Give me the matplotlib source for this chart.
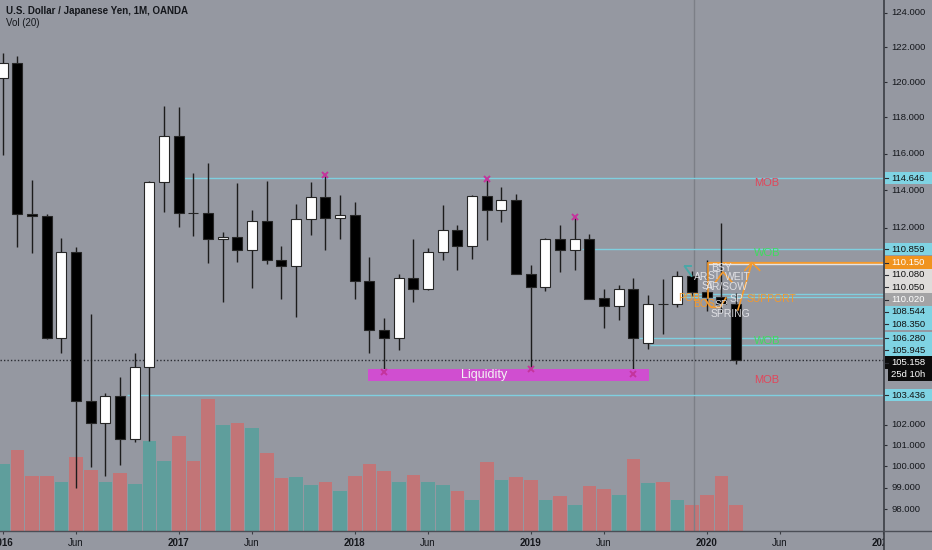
import numpy as np
import pandas as pd
import matplotlib
matplotlib.use('Agg')
import matplotlib.pyplot as plt
from matplotlib.patches import Rectangle
from matplotlib.lines import Line2D
from matplotlib.transforms import blended_transform_factory

plt.rcParams['font.family'] = ['Liberation Sans', 'DejaVu Sans']

# Monthly USD/JPY candles, Jan 2016 .. Mar 2020
months = pd.period_range('2016-01', '2020-03', freq='M')
opens = [120.21, 121.10, 112.71, 112.60, 106.30, 110.73, 103.16, 102.07, 103.42, 101.31, 104.83, 114.45,
         116.97, 112.76, 112.75, 111.38, 111.52, 110.80, 112.36, 110.27, 109.96, 112.47, 113.62, 112.51,
         112.68, 109.18, 106.67, 106.28, 109.35, 108.78, 110.73, 111.85, 111.04, 113.70, 112.92, 113.48,
         109.58, 108.86, 111.38, 110.83, 111.41, 108.30, 107.89, 108.77, 106.03, 108.03, 107.99, 109.46,
         108.61, 108.35, 107.99]
highs = [121.69, 121.51, 114.55, 112.70, 111.45, 110.95, 107.49, 103.56, 104.32, 105.55, 114.52, 118.65,
         118.61, 114.92, 115.50, 111.78, 114.37, 112.94, 114.50, 111.04, 113.26, 114.43, 114.83, 113.74,
         113.35, 110.46, 107.30, 109.55, 111.38, 110.94, 113.19, 112.15, 113.74, 114.62, 114.17, 113.81,
         110.01, 111.46, 112.12, 112.55, 111.67, 108.80, 108.99, 109.34, 108.46, 109.29, 109.70, 109.72,
         110.29, 112.23, 108.56]
lows = [115.92, 110.96, 110.67, 106.25, 105.55, 99.00, 99.98, 99.54, 100.07, 101.19, 101.21, 112.83,
        112.05, 111.55, 110.12, 108.13, 110.20, 108.82, 110.10, 108.25, 107.33, 111.62, 110.81, 111.38,
        108.25, 105.52, 104.59, 105.67, 108.10, 108.72, 110.27, 109.77, 110.36, 111.32, 112.28, 109.55,
        104.72, 108.70, 109.68, 109.77, 108.25, 106.77, 107.20, 104.49, 105.72, 106.49, 107.84, 108.43,
        107.65, 107.62, 104.98]
closes = [121.10, 112.71, 112.60, 106.30, 110.73, 103.16, 102.07, 103.42, 101.31, 104.83, 114.45, 116.97,
          112.76, 112.75, 111.38, 111.52, 110.80, 112.36, 110.27, 109.96, 112.47, 113.62, 112.51, 112.68,
          109.18, 106.67, 106.28, 109.35, 108.78, 110.73, 111.85, 111.04, 113.70, 112.94, 113.48, 109.58,
          108.86, 111.38, 110.83, 111.41, 108.27, 107.89, 108.77, 106.29, 108.03, 107.99, 109.46, 108.61,
          108.35, 107.99, 105.158]
# volume in thousands
volumes = [1000, 1206, 816, 816, 726, 1101, 910, 726, 865, 700, 1341, 1045,
           1416, 1041, 1971, 1590, 1620, 1540, 1165, 786, 801, 681, 730, 591,
           816, 1000, 895, 726, 835, 726, 685, 591, 460, 1035, 760, 805,
           756, 460, 516, 390, 670, 630, 535, 1075, 715, 726, 460, 390,
           535, 825, 385]

last_price = 105.158

# horizontal levels drawn on the chart
level_prices = [114.646, 110.859, 110.150, 110.080, 108.544, 108.350, 106.280, 105.945, 103.436]
level_starts = [12.3, 39.5, 48.1, 48.1, 46.2, 46.2, 43.4, 44.1, 8.45]
level_colors = ['#7fcfdf', '#7fcfdf', '#f59a2c', '#e4e4e4', '#7fcfdf', '#7fcfdf', '#7fcfdf', '#7fcfdf', '#7fcfdf']
level_widths = [1.0, 1.0, 1.6, 1.0, 1.0, 1.0, 1.0, 1.0, 1.0]

# price scale tags: text, price, background, text colour
CYAN = '#7fd3e3'
tag_texts = ['114.646', '110.859', '110.150', '110.080', '110.050', '110.020', '108.544', '108.350',
             '106.280', '105.945', '105.158', '25d 10h', '103.436']
tag_prices = [114.646, 110.859, 110.150, 110.080, 110.050, 110.020, 108.544, 108.350,
              106.280, 105.945, 105.158, 105.158, 103.436]
tag_bgs = [CYAN, CYAN, '#f0931e', '#dedcda', '#dedcda', '#a3a3a5', CYAN, CYAN,
           CYAN, CYAN, '#0c0c0c', '#0c0c0c', CYAN]
tag_fgs = ['#111', '#111', 'white', '#111', '#111', 'white', '#111', '#111',
           '#111', '#111', 'white', 'white', '#111']

scale_ticks = [124, 122, 120, 118, 116, 114, 112, 102, 101, 100, 99, 98]

# zone labels on the right
zone_texts = ['MOB', 'WOB', 'WOB', 'MOB']
zone_prices = [114.39, 110.66, 106.13, 104.19]
zone_colors = ['#e2465a', '#3fdc60', '#3fdc60', '#e2465a']

# swing markers (month index, price)
mark_x = [22, 33, 39, 26, 36, 43]
mark_y = [114.83, 114.62, 112.55, 104.59, 104.72, 104.49]

BG = '#9598a1'
W, H = 932, 550
plot_right = 884.3
plot_bottom = 530.7

fig = plt.figure(figsize=(W / 100, H / 100), dpi=100, facecolor=BG)
rect = [0, (H - plot_bottom) / H, plot_right / W, plot_bottom / H]

vax = fig.add_axes(rect, zorder=0)
ax = fig.add_axes(rect, zorder=1, sharex=vax)
ax.patch.set_visible(False)
vax.set_facecolor(BG)

x = np.arange(len(months))
o = np.array(opens)
c = np.array(closes)
up = c >= o

# volume
vcol = np.where(up, '#5f9e9c', '#c27577')
vax.bar(x, volumes, width=0.93, color=vcol, linewidth=0)
vax.set_ylim(0, 7960)
vax.axis('off')

# candles
ax.set_yscale('log')
ax.set_ylim(97.0, 124.76)
ax.set_xlim(-0.184, 60.1)
ax.vlines(x, lows, highs, color='#1c1c1c', linewidth=1.0, zorder=2)
ax.bar(x, np.abs(c - o), bottom=np.minimum(o, c), width=0.68,
       color=np.where(up, 'white', 'black'), edgecolor='#262626', linewidth=0.8, zorder=3)

# levels
for p, s, col, lw in zip(level_prices, level_starts, level_colors, level_widths):
    ax.hlines(p, s, 60.1, color=col, linewidth=lw, zorder=1)
ax.axhline(last_price, color='#2a2c33', linewidth=1.0, linestyle=(0, (1, 1.5)), zorder=1)
ax.axvline(47.14, color='#7c7f87', linewidth=1.0, zorder=0)

# liquidity box
ax.add_patch(Rectangle((24.88, 104.12), 44.08 - 24.88, 104.72 - 104.12,
                       facecolor='#d04ed0', edgecolor='none', zorder=4))
ax.text(32.8, 104.41, 'Liquidity', color='#f4f4f4', fontsize=9, ha='center', va='center', zorder=5)
ax.plot(mark_x, mark_y, linestyle='none', marker='x', markersize=4.5, mew=1.4, color='#c4349c', zorder=6)

for t, p, col in zip(zone_texts, zone_prices, zone_colors):
    ax.text(52.1, p, t, color=col, fontsize=8, ha='center', va='center', zorder=5)

# messy annotation cluster
orange = '#f59a2c'
ax.plot([48.08, 48.08], [110.15, 108.32], color=orange, lw=1.2, zorder=5)
ax.plot([50.12, 51.08], [107.71, 110.15], color=orange, lw=1.2, zorder=5)
ax.plot([50.6, 51.08, 51.6], [109.75, 110.15, 109.75], color=orange, lw=1.2, zorder=5)
ax.plot([48.6, 49.1, 49.7], [109.15, 109.66, 109.15], color=orange, lw=1.2, zorder=5)
ax.plot([47.9, 48.3, 48.9, 49.3], [108.22, 107.84, 107.84, 108.32], color=orange, lw=1.2, zorder=5)
ax.plot([46.95, 46.5], [109.46, 109.95], color='#4aa8a8', lw=1.4, zorder=5)
ax.plot([46.5, 46.9], [109.95, 109.95], color='#4aa8a8', lw=1.4, zorder=5)
for t, mx, p in [('BSY', 49.0, 109.87), ('AR', 47.6, 109.40), ('WEIT', 50.1, 109.42),
                 ('ST', 48.5, 109.45), ('AR/SOW', 49.4, 108.89), ('SP', 50.0, 108.27),
                 ('SP', 49.0, 107.96), ('SPRING', 49.6, 107.50), ('ST', 48.1, 108.95)]:
    ax.text(mx, p, t, color='#e8e8ec', fontsize=7.5, ha='center', va='center', zorder=6, alpha=0.9)
for t, mx, p in [('SUPPORT', 52.4, 108.27), ('POB', 46.8, 108.32), ('BOS', 47.8, 107.99)]:
    ax.text(mx, p, t, color=orange, fontsize=7.5, ha='center', va='center', zorder=6)

# x axis
ticks = [0, 5, 12, 17, 24, 29, 36, 41, 48, 53, 60]
labels = []
for m in ticks:
    per = pd.Period('2016-01', freq='M') + m
    labels.append(str(per.year) if per.month == 1 else per.strftime('%b'))
ax.set_xticks(ticks)
ax.set_xticklabels(labels, fontsize=7, color='#15171c')
for lbl, m in zip(ax.get_xticklabels(), ticks):
    if (pd.Period('2016-01', freq='M') + m).month == 1:
        lbl.set_fontweight('bold')
ax.tick_params(axis='x', length=2.5, width=0.8, color='#3a3d44', pad=2.5)
ax.tick_params(axis='y', which='both', left=False, right=False, labelleft=False)
ax.yaxis.set_minor_locator(matplotlib.ticker.NullLocator())
for sp in ax.spines.values():
    sp.set_visible(False)

# price scale panel
sax = fig.add_axes([plot_right / W, (H - plot_bottom) / H, (W - plot_right) / W, plot_bottom / H], zorder=2)
sax.set_facecolor(BG)
sax.set_yscale('log')
sax.set_ylim(ax.get_ylim())
sax.set_xlim(0, 1)
sax.set_xticks([])
sax.yaxis.set_minor_locator(matplotlib.ticker.NullLocator())
sax.set_yticks(scale_ticks)
sax.set_yticklabels([])
sax.tick_params(axis='y', direction='in', length=2.5, width=0.8, color='#2a2c33')
for sp in sax.spines.values():
    sp.set_visible(False)
blend = blended_transform_factory(sax.transAxes, sax.transData)
for p in scale_ticks:
    sax.text(0.145, p, f'{p:.3f}', transform=blend, fontsize=6.8, color='#15171c', va='center', ha='left')

# stack the tags like the platform does so they never overlap
gap = 12.3
inv = sax.transData.inverted()
prev = None
for t, p, bg, fg in zip(tag_texts, tag_prices, tag_bgs, tag_fgs):
    yd = sax.transData.transform((0, p))[1]
    if prev is not None and yd > prev - gap:
        yd = prev - gap
    prev = yd
    pc = inv.transform((0, yd))[1]
    pt = inv.transform((0, yd + gap / 2))[1]
    pb = inv.transform((0, yd - gap / 2))[1]
    x0 = 0.07 if t.endswith('h') else 0.01
    sax.add_patch(Rectangle((x0, pb), 1 - x0, pt - pb, transform=blend,
                            facecolor=bg, edgecolor='none', zorder=3))
    if not t.endswith('h'):
        sax.plot([0.01, 0.07], [pc, pc], transform=blend, color='#2a2c33', lw=0.8, zorder=4)
    sax.text(0.145, pc, t, transform=blend, fontsize=6.8, color=fg, va='center', ha='left', zorder=5)

# corner below the price scale hides the overflowing time label
fig.add_artist(Rectangle((plot_right / W, 0), 1 - plot_right / W, (H - plot_bottom) / H,
                         transform=fig.transFigure, facecolor=BG, edgecolor='none', zorder=1.5))

# frame lines
fig.add_artist(Line2D([plot_right / W] * 2, [0, 1], color='#3a3d44', lw=1.2,
                      transform=fig.transFigure, zorder=3))
fig.add_artist(Line2D([0, 1], [(H - plot_bottom) / H] * 2, color='#4b4e56', lw=1.0,
                      transform=fig.transFigure, zorder=3))

fig.text(6 / W, 1 - 11 / H, 'U.S. Dollar / Japanese Yen, 1M, OANDA', fontsize=7, fontweight='bold',
         color='#15171c', va='center', ha='left')
fig.text(6 / W, 1 - 23.5 / H, 'Vol (20)', fontsize=7, color='#15171c', va='center', ha='left')

fig.savefig('out.png', dpi=100, facecolor=BG)
